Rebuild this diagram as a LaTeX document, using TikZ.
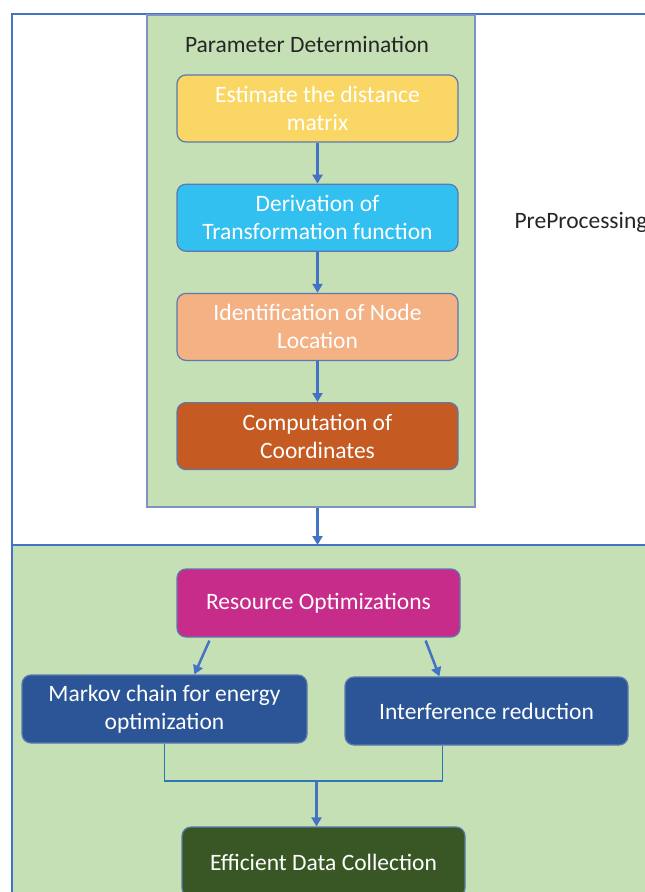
\documentclass[tikz,border=0pt]{standalone}
\usepackage{fontspec}
\setmainfont{Carlito}
\usepackage{tikz}
\usetikzlibrary{arrows.meta,positioning}

\definecolor{frameblue}{HTML}{4472C4}
\definecolor{mergeblue}{HTML}{2E75B6}
\definecolor{panelline}{HTML}{7F93C2}
\definecolor{panelgreen}{HTML}{C5E0B4}
\definecolor{boxline}{HTML}{5B79B0}
\definecolor{cyellow}{HTML}{FAD764}
\definecolor{ccyan}{HTML}{32C0F0}
\definecolor{csalmon}{HTML}{F4B183}
\definecolor{corange}{HTML}{C55A22}
\definecolor{cmagenta}{HTML}{C72C8A}
\definecolor{cblue}{HTML}{2B5597}
\definecolor{cdkgreen}{HTML}{385724}

\begin{document}
\begin{tikzpicture}[
    x=1pt, y=-1pt,
    node distance=41pt and 38pt,
    mybox/.style={draw=boxline, line width=1.2pt, rounded corners=9pt, text=white, align=center,
        minimum width=281pt, minimum height=67pt, font=\fontsize{23.5}{28}\selectfont},
    mylabel/.style={text=black!85, font=\fontsize{23.5}{28}\selectfont},
    myedge/.style={-{Triangle[length=9pt,width=10pt]}, line width=2.5pt, color=frameblue},
    myline/.style={line width=1.6pt, color=mergeblue}
]
\useasboundingbox (0,0) rectangle (645,892);

% outer frames
\fill[panelgreen] (12,545) rectangle (660,910);
\draw[frameblue, line width=2pt] (660,14) -- (12,14) -- (12,910);
\draw[frameblue, line width=1.5pt] (12,545) -- (660,545);

% parameter panel
\node[draw=panelline, fill=panelgreen, line width=1.5pt, minimum width=328pt, minimum height=492pt,
    anchor=north west] (P) at (146,14) {};
\node[mylabel] (T) at (307,44) {Parameter Determination};
\node[mylabel, anchor=west] (PP) at (511,222) {PreProcessing};

\node[mybox, fill=cyellow] (E) at (317.5,108.5) {Estimate the distance\\matrix};
\node[mybox, fill=ccyan, below=of E] (D) {Derivation of\\Transformation function};
\node[mybox, fill=csalmon, below=of D] (L) {Identification of Node\\Location};
\node[mybox, fill=corange, below=of L] (C) {Computation of\\Coordinates};

\draw[myedge] (E) -- (D);
\draw[myedge] (D) -- (L);
\draw[myedge] (L) -- (C);

\coordinate (B) at (317.5,545);
\draw[myedge] (C |- P.south) -- (B);

% resource part
\node[mybox, fill=cmagenta, minimum width=283pt, minimum height=68pt] (R) at (318.5,603) {Resource Optimizations};
\node[mybox, fill=cblue, minimum width=285pt, minimum height=68pt] (M) at (164.5,709) {Markov chain for energy\\optimization};
\node[mybox, fill=cblue, minimum width=283pt, minimum height=68pt] (I) at (486.5,711) {Interference reduction};
\node[mybox, fill=cdkgreen, minimum width=283pt, minimum height=70pt] (F) at (323.5,862) {Efficient Data Collection};

\draw[myedge] ([xshift=33pt,yshift=-3pt]R.south west) -- ([xshift=173pt]M.north west);
\draw[myedge] ([xshift=-35pt,yshift=-3pt]R.south east) -- ([xshift=95pt]I.north west);

\coordinate (J) at (316.5,781);
\draw[myline] (M.south) |- (J) -| ([xshift=98pt]I.south west);
\draw[myedge] (J) -- (J |- F.north);
\end{tikzpicture}
\end{document}
